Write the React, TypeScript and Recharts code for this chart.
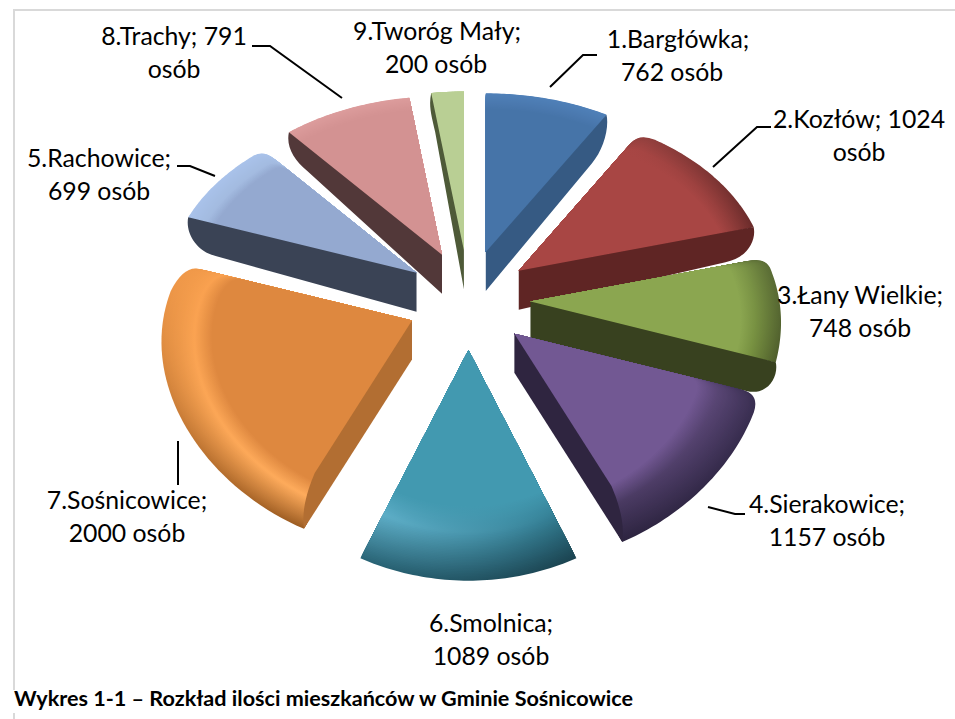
import React from 'react';
import { PieChart, Pie } from 'recharts';

const names = ['1.Bargłówka', '2.Kozłów', '3.Łany Wielkie', '4.Sierakowice', '6.Smolnica', '7.Sośnicowice', '5.Rachowice', '8.Trachy', '9.Tworóg Mały'];
const people = [762, 1024, 748, 1157, 1089, 2000, 699, 791, 200];
const labelLines = [
  ['1.Bargłówka;', '762 osób'],
  ['2.Kozłów; 1024', 'osób'],
  ['3.Łany Wielkie;', '748 osób'],
  ['4.Sierakowice;', '1157 osób'],
  ['6.Smolnica;', '1089 osób'],
  ['7.Sośnicowice;', '2000 osób'],
  ['5.Rachowice;', '699 osób'],
  ['8.Trachy; 791', 'osób'],
  ['9.Tworóg Mały;', '200 osób'],
];
const caption = 'Wykres 1-1 – Rozkład ilości mieszkańców w Gminie Sośnicowice';

const labelX = [678, 859, 860, 827, 491, 127, 99, 174, 437];
const labelX2 = [672, 859, 860, 827, 491, 127, 99, 174, 436];
const labelY = [48, 128, 304, 513, 632, 509, 167, 45, 40];
const leaders = [
  '550,87 583,55 597,55',
  '713,167 757,127 771,127',
  '',
  '708,507 735,514 745,514',
  '',
  '178,441 178,485',
  '215,176 190,166 177,166',
  '342,98 270,46 252,46',
  '',
];

const baseColors = ['#4674A8', '#A84644', '#8BA650', '#725893', '#4299B0', '#DE883F', '#94A9D0', '#D39292', '#B9CF94'];
const wallColors = ['#365A83', '#5F2524', '#38411F', '#2F2540', '#2F2540', '#B26E32', '#3A4355', '#523839', '#4E5A38'];
// rim colours: [edge at arc start, mid at arc start, edge at arc end, mid at arc end]
const rimColors = [
  ['#4F80B8', '#4A78AE', '#4F80B8', '#4A78AE'],
  ['#93403E', '#A84644', '#6A2B2A', '#923D3B'],
  ['#5C6E36', '#7D9648', '#4F5E2C', '#76903F'],
  ['#3A2F52', '#5C4878', '#2D2440', '#47385F'],
  ['#1B4350', '#2F7A8F', '#2A6678', '#63B4CE'],
  ['#9C5C22', '#FFAD5E', '#F29A4A', '#F9A04E'],
  ['#A9C2EA', '#A3BBE0', '#A9C2EA', '#A3BBE0'],
  ['#DC9C9C', '#D69595', '#DC9C9C', '#D69595'],
  ['#B9CF94', '#B9CF94', '#B9CF94', '#B9CF94'],
];
const bevelFractions = [0.1, 0.14, 0.16, 0.24, 0.32, 0.2, 0.12, 0.08, 0.02];
// 'end' / 'start' = radial side that shows a wall; '' = none
const wallSides = ['end', 'end', 'end', 'end', '', 'start', 'start', 'start', 'start'];
const wallOuterDepths = [32, 30, 36, 39, 0, 39, 32, 24, 20];
const roundedCorners = [[0, 0], [1, 0], [1, 0], [1, 0], [0, 0], [0, 1], [0, 1], [0, 0], [0, 0]];

const tableData = names.map((name, i) => ({ name, value: people[i] }));

const CX = 468.5;
const CY = 300;
const OUTER = 188;
const DEPTH = 39;

type P = { x: number; y: number };

const project = (deg: number, r: number): P => {
  const t = ((90 - deg) * Math.PI) / 180;
  const u = Math.sin(t);
  const v = -Math.cos(t);
  const k = r / OUTER;
  return { x: k * u * (249 + 28 * v), y: (k * OUTER * v) / (1 - 0.185 * v) };
};

const hex = (c: string) => [1, 3, 5].map((i) => parseInt(c.slice(i, i + 2), 16));
const mix = (a: string, b: string, t: number) => {
  const A = hex(a);
  const B = hex(b);
  return `rgb(${A.map((x, i) => Math.round(x + (B[i] - x) * t)).join(',')})`;
};
const rgbMix = (edge: string, mid: string, base: string, t: number) =>
  t < 0.65 ? mix(edge, mid, t / 0.65) : mix(mid, base, (t - 0.65) / 0.35);

const Slice = (props: any) => {
  const { cx, cy, outerRadius, startAngle, endAngle, name } = props;
  const i = names.indexOf(name);
  const mid = (startAngle + endAngle) / 2;
  const mr = (mid * Math.PI) / 180;
  const ax = cx + 62 * Math.cos(mr);
  const ay = cy - 50 * Math.sin(mr);
  const steps = 48;
  const arc: P[] = [];
  for (let s = 0; s <= steps; s++) {
    const a = startAngle + ((endAngle - startAngle) * s) / steps;
    const p = project(a, outerRadius);
    arc.push({ x: ax + p.x, y: ay + p.y });
  }
  const scaled = (p: P, k: number): P => ({ x: ax + (p.x - ax) * k, y: ay + (p.y - ay) * k });
  const [rStart, rEnd] = roundedCorners[i];
  const n = arc.length - 1;
  const pathFor = (k: number) => {
    const pts = arc.map((p) => scaled(p, k));
    let d = `M${ax} ${ay}`;
    if (rStart) {
      const a0 = scaled(pts[0], 0.93);
      d += `L${a0.x} ${a0.y}Q${pts[0].x} ${pts[0].y} ${pts[5].x} ${pts[5].y}`;
    } else {
      d += `L${pts[0].x} ${pts[0].y}`;
    }
    const from = rStart ? 6 : 1;
    const to = rEnd ? n - 5 : n;
    for (let s = from; s <= to; s++) d += `L${pts[s].x} ${pts[s].y}`;
    if (rEnd) {
      const z = scaled(pts[n], 0.93);
      d += `Q${pts[n].x} ${pts[n].y} ${z.x} ${z.y}`;
    }
    return d + 'Z';
  };

  const bands = 48;
  const bevel = bevelFractions[i];
  const [e0, m0, e1, m1] = rimColors[i];
  const base = baseColors[i];
  const S = arc[0];
  const E = arc[n];
  const layers = [];
  const defs = [];
  for (let b = 0; b < bands; b++) {
    const t = b / (bands - 1);
    const id = `g${i}-${b}`;
    defs.push(
      <linearGradient key={id} id={id} gradientUnits="userSpaceOnUse" x1={S.x} y1={S.y} x2={E.x} y2={E.y}>
        <stop offset="0" stopColor={rgbMix(e0, m0, base, t)} />
        <stop offset="1" stopColor={rgbMix(e1, m1, base, t)} />
      </linearGradient>,
    );
    layers.push(<path key={id} d={pathFor(1 - bevel * t)} fill={`url(#${id})`} />);
  }

  let wall = null;
  const side = wallSides[i];
  if (side) {
    const T = side === 'end' ? E : S;
    const A2 = { x: ax, y: ay + DEPTH };
    const dx = T.x - ax;
    const dy = T.y - ay;
    const isFront = dy > 0.6 * Math.abs(dx) && Math.abs(dy) > 100;
    let d: string;
    if (isFront) {
      const Ux = A2.x + 0.9 * (T.x - A2.x);
      const Uy = A2.y + 0.9 * (T.y - A2.y) - DEPTH;
      const sx = Math.sign(dx);
      d = `M${ax} ${ay}L${Ux} ${Uy}C${Ux + sx * 5} ${Uy + 12} ${T.x + sx * 3} ${T.y - 22} ${T.x} ${T.y}L${A2.x} ${A2.y}Z`;
    } else {
      const dep = wallOuterDepths[i];
      const Px = ax + 0.88 * dx;
      const Py = ay + 0.88 * dy + dep;
      const c1x = Px + 0.09 * dx;
      const c1y = Py + 0.09 * dy;
      const c2x = T.x + Math.sign(dx) * 3;
      const c2y = T.y + 14;
      d = `M${ax} ${ay}L${T.x} ${T.y}C${c2x} ${c2y} ${c1x} ${c1y} ${Px} ${Py}L${A2.x} ${A2.y}Z`;
    }
    wall = <path d={d} fill={wallColors[i]} />;
  }

  return (
    <g>
      <defs>{defs}</defs>
      {layers}
      {wall}
    </g>
  );
};

const renderLabel = (props: any) => {
  const i = props.index;
  const [l1, l2] = labelLines[i];
  const font = { fontFamily: 'Lato, Carlito, sans-serif', fontSize: 24.8, fill: '#000' };
  return (
    <g key={i}>
      {leaders[i] && <polyline points={leaders[i]} fill="none" stroke="#000" strokeWidth={2} />}
      <text x={labelX[i]} y={labelY[i]} textAnchor="middle" {...font}>{l1}</text>
      <text x={labelX2[i]} y={labelY[i] + 33} textAnchor="middle" {...font}>{l2}</text>
    </g>
  );
};

export default function App() {
  return (
    <div style={{ position: 'absolute', left: 0, top: 0, width: 955, height: 719, background: '#fff', overflow: 'hidden' }}>
      <div style={{ position: 'absolute', left: 13, top: 9, width: 942, height: 2, background: '#D9D9D9' }} />
      <div style={{ position: 'absolute', left: 13, top: 9, width: 2, height: 681, background: '#D9D9D9' }} />
      <div style={{ position: 'absolute', left: 13, top: 713, width: 2, height: 6, background: '#D9D9D9' }} />
      <div style={{ position: 'absolute', left: 0, top: 0 }}>
        <PieChart width={955} height={719} margin={{ top: 0, right: 0, bottom: 0, left: 0 }}>
          <Pie
            data={tableData}
            dataKey="value"
            nameKey="name"
            cx={CX}
            cy={CY}
            innerRadius={0}
            outerRadius={OUTER}
            startAngle={90}
            endAngle={-270}
            paddingAngle={0}
            stroke="none"
            isAnimationActive={false}
            shape={Slice}
            label={renderLabel}
            labelLine={false}
          />
        </PieChart>
      </div>
      <div style={{ position: 'absolute', left: 14, top: 685, fontFamily: 'Lato, sans-serif', fontWeight: 700, fontSize: 21.6, lineHeight: '26px', whiteSpace: 'nowrap', color: '#000' }}>
        {caption}
      </div>
    </div>
  );
}
